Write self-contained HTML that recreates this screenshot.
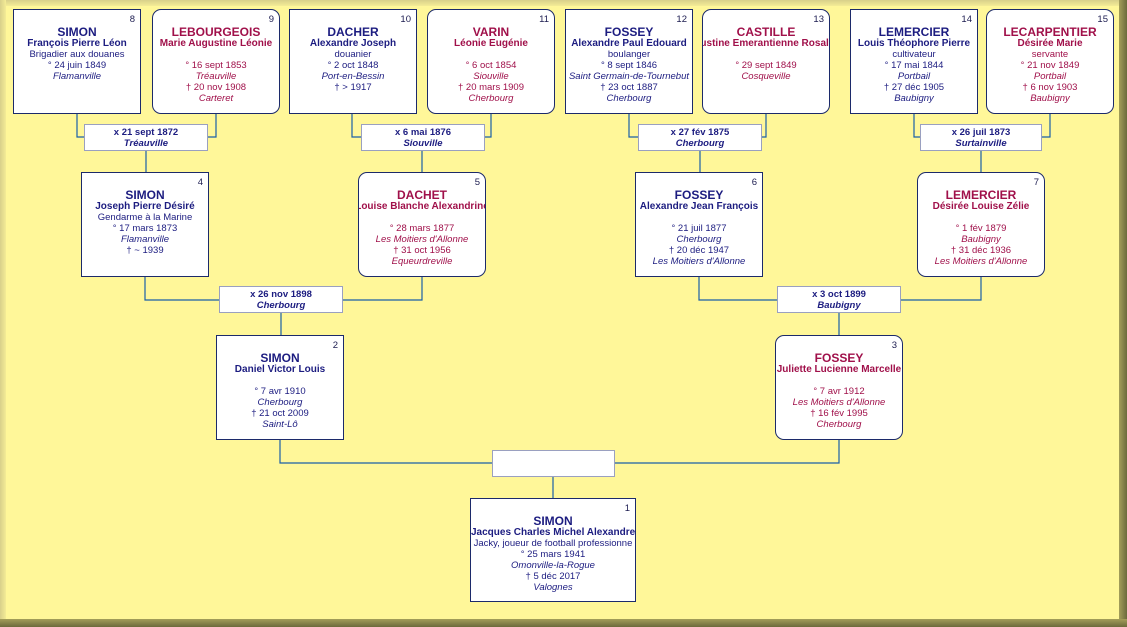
<!DOCTYPE html>
<html><head><meta charset="utf-8">
<style>
*{margin:0;padding:0;box-sizing:border-box}
body{width:1127px;height:627px;overflow:hidden;background:#fff799;font-family:"Liberation Sans",sans-serif;position:relative}
.fr{position:absolute}
.b{position:absolute;background:#fff;border:1px solid #1c2a6a;text-align:center;color:#1c1c80;font-size:9.5px;line-height:11px;padding-top:16px;overflow:hidden;white-space:nowrap}
.b.f{color:#a0104a;border-radius:9px}
.b .n{font-size:12px;font-weight:bold;line-height:12px}
.b .p{font-weight:bold;font-size:10px}
.b .num{position:absolute;right:5px;top:4px;color:#1c1c50;font-size:9.5px}
.b.f .num{color:#1c1c50}
.b i{display:block}
.m{position:absolute;background:#fff;border:1px solid #9aa0c0;text-align:center;color:#1c1c80;font-size:9.5px;line-height:11px;font-weight:bold;padding-top:2px}
.m i{display:block}
</style></head><body>
<div class="fr" style="left:0;top:0;width:1127px;height:6px;background:linear-gradient(#d8d08a,#f4ec96)"></div>
<div class="fr" style="left:0;top:0;width:6px;height:627px;background:linear-gradient(90deg,#d8d08a,#f4ec96)"></div>
<div class="fr" style="left:1119px;top:0;width:8px;height:627px;background:linear-gradient(90deg,#a39e5a,#6b6a3c)"></div>
<div class="fr" style="left:0;top:619px;width:1127px;height:8px;background:linear-gradient(#a39e5a,#6b6a3c)"></div>

<svg width="1127" height="627" style="position:absolute;left:0;top:0" fill="none" stroke="#1a5fa8" stroke-width="1.2">
<path d="M77 113V137H84M216 113V137H208M146 150V172"/>
<path d="M352 113V137H361M491 113V137H485M422 150V172"/>
<path d="M629 113V137H638M766 113V137H762M700 150V172"/>
<path d="M914 113V137H920M1050 113V137H1042M981 150V172"/>
<path d="M145 276V300H219M422 276V300H343M281 313V335"/>
<path d="M699 276V300H777M981 276V300H901M839 313V335"/>
<path d="M280 439V463H492M839 439V463H614M553 476V498"/>
</svg>

<div class="b" style="left:13px;top:9px;width:128px;height:105px"><span class="num">8</span><div class="n">SIMON</div><div class="p">François Pierre Léon</div>Brigadier aux douanes<br>° 24 juin 1849<i>Flamanville</i></div>
<div class="b f" style="left:152px;top:9px;width:128px;height:105px"><span class="num">9</span><div class="n">LEBOURGEOIS</div><div class="p">Marie Augustine Léonie</div>&nbsp;<br>° 16 sept 1853<i>Tréauville</i>† 20 nov 1908<i>Carteret</i></div>
<div class="b" style="left:289px;top:9px;width:128px;height:105px"><span class="num">10</span><div class="n">DACHER</div><div class="p">Alexandre Joseph</div>douanier<br>° 2 oct 1848<i>Port-en-Bessin</i>† &gt; 1917</div>
<div class="b f" style="left:427px;top:9px;width:128px;height:105px"><span class="num">11</span><div class="n">VARIN</div><div class="p">Léonie Eugénie</div>&nbsp;<br>° 6 oct 1854<i>Siouville</i>† 20 mars 1909<i>Cherbourg</i></div>
<div class="b" style="left:565px;top:9px;width:128px;height:105px"><span class="num">12</span><div class="n">FOSSEY</div><div class="p">Alexandre Paul Edouard</div>boulanger<br>° 8 sept 1846<i>Saint Germain-de-Tournebut</i>† 23 oct 1887<i>Cherbourg</i></div>
<div class="b f" style="left:702px;top:9px;width:128px;height:105px"><span class="num">13</span><div class="n">CASTILLE</div><div class="p" style="margin-left:-10px;margin-right:-10px">Justine Emerantienne Rosalie</div>&nbsp;<br>° 29 sept 1849<i>Cosqueville</i></div>
<div class="b" style="left:850px;top:9px;width:128px;height:105px"><span class="num">14</span><div class="n">LEMERCIER</div><div class="p">Louis Théophore Pierre</div>cultivateur<br>° 17 mai 1844<i>Portbail</i>† 27 déc 1905<i>Baubigny</i></div>
<div class="b f" style="left:986px;top:9px;width:128px;height:105px"><span class="num">15</span><div class="n">LECARPENTIER</div><div class="p">Désirée Marie</div>servante<br>° 21 nov 1849<i>Portbail</i>† 6 nov 1903<i>Baubigny</i></div>

<div class="m" style="left:84px;top:124px;width:124px;height:27px">x 21 sept 1872<i>Tréauville</i></div>
<div class="m" style="left:361px;top:124px;width:124px;height:27px">x 6 mai 1876<i>Siouville</i></div>
<div class="m" style="left:638px;top:124px;width:124px;height:27px">x 27 fév 1875<i>Cherbourg</i></div>
<div class="m" style="left:920px;top:124px;width:122px;height:27px">x 26 juil 1873<i>Surtainville</i></div>

<div class="b" style="left:81px;top:172px;width:128px;height:105px"><span class="num">4</span><div class="n">SIMON</div><div class="p">Joseph Pierre Désiré</div>Gendarme à la Marine<br>° 17 mars 1873<i>Flamanville</i>† ~ 1939</div>
<div class="b f" style="left:358px;top:172px;width:128px;height:105px"><span class="num">5</span><div class="n">DACHET</div><div class="p" style="margin-left:-10px;margin-right:-10px">Louise Blanche Alexandrine</div>&nbsp;<br>° 28 mars 1877<i>Les Moitiers d'Allonne</i>† 31 oct 1956<i>Equeurdreville</i></div>
<div class="b" style="left:635px;top:172px;width:128px;height:105px"><span class="num">6</span><div class="n">FOSSEY</div><div class="p">Alexandre Jean François</div>&nbsp;<br>° 21 juil 1877<i>Cherbourg</i>† 20 déc 1947<i>Les Moitiers d'Allonne</i></div>
<div class="b f" style="left:917px;top:172px;width:128px;height:105px"><span class="num">7</span><div class="n">LEMERCIER</div><div class="p">Désirée Louise Zélie</div>&nbsp;<br>° 1 fév 1879<i>Baubigny</i>† 31 déc 1936<i>Les Moitiers d'Allonne</i></div>

<div class="m" style="left:219px;top:286px;width:124px;height:27px">x 26 nov 1898<i>Cherbourg</i></div>
<div class="m" style="left:777px;top:286px;width:124px;height:27px">x 3 oct 1899<i>Baubigny</i></div>

<div class="b" style="left:216px;top:335px;width:128px;height:105px"><span class="num">2</span><div class="n">SIMON</div><div class="p">Daniel Victor Louis</div>&nbsp;<br>° 7 avr 1910<i>Cherbourg</i>† 21 oct 2009<i>Saint-Lô</i></div>
<div class="b f" style="left:775px;top:335px;width:128px;height:105px"><span class="num">3</span><div class="n">FOSSEY</div><div class="p">Juliette Lucienne Marcelle</div>&nbsp;<br>° 7 avr 1912<i>Les Moitiers d'Allonne</i>† 16 fév 1995<i>Cherbourg</i></div>

<div class="m" style="left:492px;top:450px;width:123px;height:27px"></div>

<div class="b" style="left:470px;top:498px;width:166px;height:104px"><span class="num">1</span><div class="n">SIMON</div><div class="p">Jacques Charles Michel Alexandre</div>Jacky, joueur de football professionne<br>° 25 mars 1941<i>Omonville-la-Rogue</i>† 5 déc 2017<i>Valognes</i></div>
</body></html>
